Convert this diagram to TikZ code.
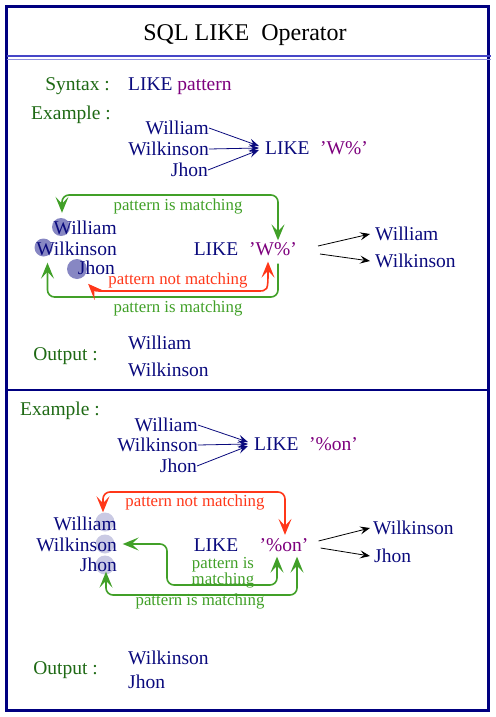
\documentclass[tikz,border=0pt]{standalone}
\usepackage{fontspec}
\setmainfont{Liberation Serif}
\usetikzlibrary{arrows.meta}
\definecolor{navy}{RGB}{10,10,125}
\definecolor{frame}{RGB}{0,0,128}
\definecolor{rule}{RGB}{70,70,200}
\definecolor{lblgreen}{RGB}{30,105,20}
\definecolor{arrgreen}{RGB}{65,160,40}
\definecolor{arrred}{RGB}{255,55,25}
\definecolor{patpurple}{RGB}{125,0,125}
\definecolor{dotdark}{RGB}{135,135,195}
\definecolor{dotlight}{RGB}{202,202,228}

\begin{document}
\begin{tikzpicture}[x=1pt, y=-1pt,
    txt/.style={inner sep=0pt, text height=12.9pt, text depth=0pt, text=navy, font=\fontsize{19.5}{22}\selectfont},
    head/.style={txt, text=lblgreen},
    pat/.style={txt, text=patpurple},
    note/.style={inner sep=0pt, text height=7.8pt, text depth=0pt, font=\fontsize{16.8}{11}\selectfont},
    dot/.style={circle, inner sep=0pt, minimum size=#1},
    thin arrow/.style={->, line width=0.8pt, >={Stealth[length=10pt, width=8pt, inset=4pt]}},
    loopline/.style={line width=1.6pt, rounded corners=7pt, >={Stealth[length=16pt, width=13pt, inset=7pt]}}]
    \useasboundingbox (0,0) rectangle (495,717);

    % Frame and title
    \draw[frame, line width=3pt] (6.5,6.5) rectangle (488,710);
    \node[txt, text=black, font=\fontsize{24}{28}\selectfont, text height=15.9pt] (title) at (245,33) {SQL LIKE\ \ Operator};
    \draw[rule, line width=1.5pt] (6.5,56) -- (491,56);
    \draw[rule!60, line width=0.8pt] (6.5,59.5) -- (491,59.5);

    % Syntax
    \node[head, anchor=east] (syntax) at (110,84) {Syntax :};
    \node[txt, anchor=west] (syntaxlike) at (128,84) {LIKE \textcolor{patpurple}{pattern}};
    \node[head, anchor=east] (example1) at (111,113) {Example :};

    % First example: names into LIKE 'W%'
    \node[txt, anchor=east] (nameA1) at (209,128) {William};
    \node[txt, anchor=east] (nameA2) at (209,149) {Wilkinson};
    \node[txt, anchor=east] (nameA3) at (208,170) {Jhon};
    \node[txt, anchor=west] (likeA) at (265,148) {LIKE};
    \node[pat, anchor=west] (patA) at (320,148) {'W\%'};
    \draw[thin arrow, navy] (nameA1.east) -- ([xshift=-6pt, yshift=2pt]likeA.west);
    \draw[thin arrow, navy] (nameA2.east) -- ([xshift=-6pt]likeA.west);
    \draw[thin arrow, navy] (nameA3.east) -- ([xshift=-6pt, yshift=-2pt]likeA.west);

    % Matching loop of the first example
    \node[dot=18, fill=dotdark] (dotB1) at (61,227) {};
    \node[dot=18, fill=dotdark] (dotB2) at (43.5,247.5) {};
    \node[dot=20, fill=dotdark] (dotB3) at (77,269) {};
    \node[txt, anchor=east] (nameB1) at (117,228) {William};
    \node[txt, anchor=east] (nameB2) at (117,249) {Wilkinson};
    \node[txt, anchor=east] (nameB3) at (115,268) {Jhon};
    \node[txt] (likeB) at (216,249) {LIKE};
    \node[pat] (patB) at (273,249) {'W\%'};

    \coordinate (topB) at (170,195);
    \coordinate (botB) at (170,297);
    \coordinate (redB1) at (112,291);
    \coordinate (redB2) at (250,291);
    \draw[loopline, <->, arrgreen] ([xshift=1pt, yshift=5pt]dotB1.north) |- (topB) -| ([xshift=5pt, yshift=2pt]patB.north);
    \draw[loopline, ->, arrgreen] ([xshift=5pt, yshift=-8pt]patB.south) |- (botB) -| ([xshift=4pt, yshift=-6pt]dotB2.south);
    \draw[loopline, <->, arrred] ([xshift=6pt, yshift=-6pt]dotB3.-60) .. controls (95,291) .. (redB1) -- (redB2) .. controls (268,291) .. ([xshift=-5pt, yshift=-6pt]patB.south);
    \node[note, text=arrgreen] (matchB1) at (178,207) {pattern is matching};
    \node[note, text=arrred] (nomatchB) at (178,281) {pattern not matching};
    \node[note, text=arrgreen] (matchB2) at (178,309) {pattern is matching};

    % Result of the first example
    \node[txt, anchor=west] (resB1) at (375,234) {William};
    \node[txt, anchor=west] (resB2) at (375,261) {Wilkinson};
    \draw[thin arrow] ([xshift=21pt, yshift=3pt]patB.east) -- ([xshift=-5pt]resB1.west);
    \draw[thin arrow] ([xshift=23pt, yshift=-5pt]patB.east) -- ([xshift=-5pt]resB2.west);
    \node[head, anchor=east] (output1) at (98,354) {Output :};
    \node[txt, anchor=west] (outB1) at (128,343) {William};
    \node[txt, anchor=west] (outB2) at (128,370) {Wilkinson};

    % Divider
    \draw[frame, line width=2pt] (6.5,390) -- (488,390);

    % Second example: names into LIKE '%on'
    \node[head, anchor=east] (example2) at (100,409) {Example :};
    \node[txt, anchor=east] (nameC1) at (198,425) {William};
    \node[txt, anchor=east] (nameC2) at (198,445) {Wilkinson};
    \node[txt, anchor=east] (nameC3) at (197,466) {Jhon};
    \node[txt, anchor=west] (likeC) at (254,444) {LIKE};
    \node[pat, anchor=west] (patC) at (309,444) {'\%on'};
    \draw[thin arrow, navy] (nameC1.east) -- ([xshift=-6pt, yshift=2pt]likeC.west);
    \draw[thin arrow, navy] (nameC2.east) -- ([xshift=-6pt]likeC.west);
    \draw[thin arrow, navy] (nameC3.east) -- ([xshift=-6pt, yshift=-2pt]likeC.west);

    % Matching loops of the second example
    \node[dot=19, fill=dotlight] (dotD1) at (105,522) {};
    \node[dot=19, fill=dotlight] (dotD2) at (105,544) {};
    \node[dot=19, fill=dotlight] (dotD3) at (105,565) {};
    \node[txt, anchor=east] (nameD1) at (117,524) {William};
    \node[txt, anchor=east] (nameD2) at (117,545) {Wilkinson};
    \node[txt, anchor=east] (nameD3) at (117,565) {Jhon};
    \node[txt] (likeD) at (216,545) {LIKE};
    \node[pat] (patD) at (284,545) {'\%on'};

    \coordinate (topD) at (190,492);
    \coordinate (midD) at (167,585);
    \coordinate (botD) at (200,595);
    \draw[loopline, <->, arrred] ([xshift=-2pt]dotD1.north) |- (topD) -| ([xshift=1pt, yshift=3.5pt]patD.north);
    \draw[loopline, <->, arrgreen] ([xshift=8pt]dotD2.east) -| (midD) -| ([xshift=-7pt, yshift=-5pt]patD.south);
    \draw[loopline, <->, arrgreen] ([xshift=1pt, yshift=3pt]dotD3.south) |- (botD) -| ([xshift=13pt, yshift=-5pt]patD.south);
    \node[note, text=arrred] (nomatchD) at (195,503) {pattern not matching};
    \node[inner sep=0pt, text=arrgreen, align=center, font=\fontsize{16.8}{10.5}\selectfont] (matchD1) at (223,573) {pattern is\\matching};
    \node[note, text=arrgreen] (matchD2) at (200,602) {pattern is matching};

    % Result of the second example
    \node[txt, anchor=west] (resD1) at (373,528) {Wilkinson};
    \node[txt, anchor=west] (resD2) at (374,556) {Jhon};
    \draw[thin arrow] ([xshift=10pt, yshift=4pt]patD.east) -- ([xshift=-3pt]resD1.west);
    \draw[thin arrow] ([xshift=12pt, yshift=-3pt]patD.east) -- ([xshift=-4pt]resD2.west);
    \node[head, anchor=east] (output2) at (98,668) {Output :};
    \node[txt, anchor=west] (outD1) at (128,658) {Wilkinson};
    \node[txt, anchor=west] (outD2) at (128,682) {Jhon};
\end{tikzpicture}
\end{document}
